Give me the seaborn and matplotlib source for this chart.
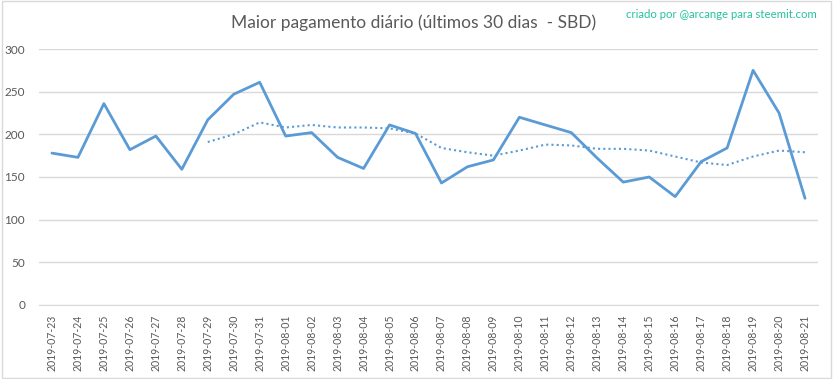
import pandas as pd
import numpy as np
import matplotlib
matplotlib.use('Agg')
import matplotlib.pyplot as plt
import seaborn as sns

datas = ['2019-07-23', '2019-07-24', '2019-07-25', '2019-07-26', '2019-07-27', '2019-07-28',
         '2019-07-29', '2019-07-30', '2019-07-31', '2019-08-01', '2019-08-02', '2019-08-03',
         '2019-08-04', '2019-08-05', '2019-08-06', '2019-08-07', '2019-08-08', '2019-08-09',
         '2019-08-10', '2019-08-11', '2019-08-12', '2019-08-13', '2019-08-14', '2019-08-15',
         '2019-08-16', '2019-08-17', '2019-08-18', '2019-08-19', '2019-08-20', '2019-08-21']

pagamento = [178, 173, 236, 182, 198, 159, 217, 247, 261, 198, 202, 173, 160, 211, 201,
             143, 162, 170, 220, 211, 202, 172, 144, 150, 127, 168, 184, 275, 225, 125]

# media movel (linha pontilhada)
media = [np.nan] * 6 + [191, 200, 214, 208, 211, 208, 208, 207, 201, 184, 179, 175, 181, 188,
                        187, 183, 183, 181, 174, 167, 164, 174, 181, 179]

df = pd.DataFrame({'data': datas, 'pagamento': pagamento, 'media': media})
df['pos'] = range(len(df))

sns.set_style('white')
plt.rcParams['font.family'] = ['Lato', 'DejaVu Sans']

azul = '#5B9BD5'
cinza = '#595959'

fig = plt.figure(figsize=(8.33, 3.79), dpi=100)
ax = fig.add_axes([0.0468, 0.1953, 0.9352, 0.6754])

sns.lineplot(data=df, x='pos', y='pagamento', ax=ax, color=azul, linewidth=2)
sns.lineplot(data=df, x='pos', y='media', ax=ax, color=azul, linewidth=1.5, linestyle=(0, (1, 1.5)))

ax.set_xlim(-0.5, len(df) - 0.5)
ax.set_ylim(0, 300)
ax.set_yticks([0, 50, 100, 150, 200, 250, 300])
ax.set_xticks(df['pos'])
ax.set_xticklabels(df['data'], rotation=90, fontsize=7.6)
ax.tick_params(axis='both', colors=cinza, length=0)
ax.tick_params(axis='y', labelsize=8.5, pad=10)
ax.tick_params(axis='x', pad=7)
ax.set_xlabel(None)
ax.set_ylabel(None)
ax.yaxis.grid(True, color='#D9D9D9', linewidth=1)
ax.spines[['right', 'top', 'left']].set_visible(False)
ax.spines['bottom'].set_color('#D9D9D9')

fig.text(0.497, 0.94, 'Maior pagamento diário (últimos 30 dias  - SBD)', ha='center', va='center',
         fontsize=12.5, color=cinza)
fig.text(0.981, 0.962, 'criado por @arcange para steemit.com', ha='right', va='center',
         fontsize=8.2, color='#26C29E')

fig.patches.append(plt.Rectangle((0.002, 0.003), 0.996, 0.994, transform=fig.transFigure,
                                 fill=False, edgecolor='#D9D9D9', linewidth=1))

fig.savefig('out.png', dpi=100)
